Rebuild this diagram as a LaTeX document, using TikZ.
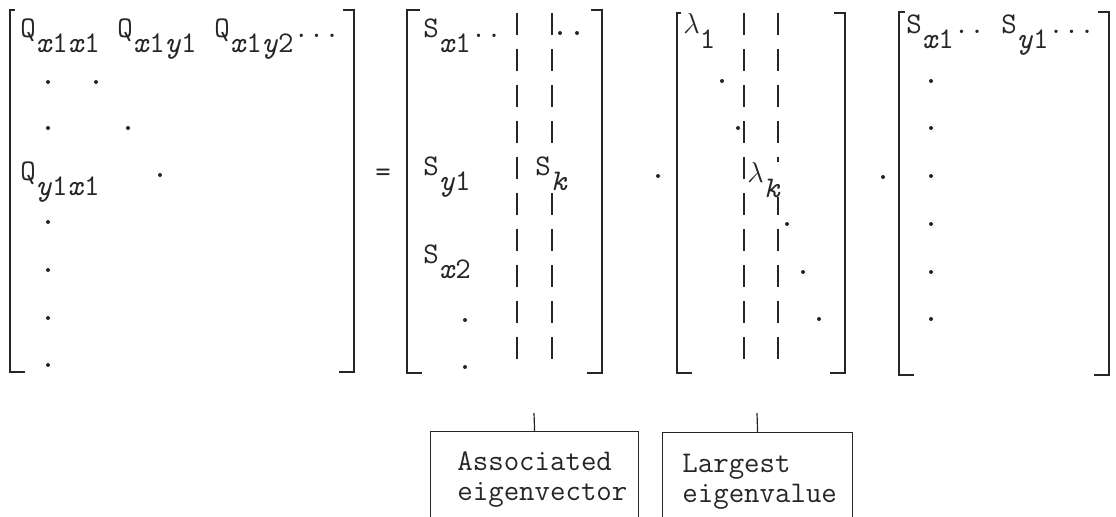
\documentclass[tikz,border=0pt]{standalone}
\usepackage{fontspec}
\usetikzlibrary{positioning}
\colorlet{ink}{black!85}
\newcommand{\sub}[1]{\raisebox{-7.5pt}{#1}}
\newcommand{\vx}{\textit{x}}
\newcommand{\vy}{\textit{y}}
\newcommand{\vk}{\textit{k}}
\newcommand{\lam}{$\lambda$}

\begin{document}
\begin{tikzpicture}[x=0.5pt, y=-0.5pt,
    entry/.style={inner sep=0pt, anchor=base west, text=ink, font=\ttfamily\fontsize{15}{15}\selectfont},
    bracket/.style={draw=ink, line width=1pt},
    vecline/.style={draw=ink, line width=0.7pt, dash pattern=on 11pt off 7pt},
    labelbox/.style={draw=ink, line width=0.6pt, inner sep=0pt, anchor=north west},
    boxtext/.style={entry, align=left}]
    \useasboundingbox (0,0) rectangle (1116,516);
    \clip (0,0) rectangle (1116,516);

    % Corchetes
    \foreach \l/\r/\t/\b/\s in {10/354/10/372/5, 407/602/10/373/13, 677/845/13/373/4, 899/1109/12/375/6} {
        \draw[bracket] (\l+\s,\t) -- (\l,\t) -- (\l,\b) -- (\l+15,\b);
        \draw[bracket] (\r-11,\t) -- (\r,\t) -- (\r,\b) -- (\r-15,\b);
    }

    % Columnas marcadas
    \foreach \x in {517, 552, 744, 778}
        \draw[vecline] (\x,13) -- (\x,373);

    % Matriz Q
    \node[entry] (q11) at (20,37) {Q\sub{\vx1\vx1}};
    \node[entry] (q12) at (117,37) {Q\sub{\vx1\vy1}};
    \node[entry] (q13) at (214,37) {Q\sub{\vx1\vy2}...};
    \node[entry] (q21) at (20,180) {Q\sub{\vy1\vx1}};
    \foreach \x/\y in {48/82, 96/82, 48/128, 128/128, 160/175, 48/222, 48/270, 48/318, 48/365}
        \fill[ink] (\x,\y) circle (1pt);

    \node[entry, anchor=center] (eq) at (383,175) {=};

    % Matriz S
    \node[entry] (s11) at (423,37) {S\sub{\vx1}..};
    \node[entry] (s21) at (423,175) {S\sub{\vy1}};
    \node[entry] (s31) at (423,263) {S\sub{\vx2}};
    \node[entry, fill=white] (sk) at (535,175) {S\sub{\vk}};
    \foreach \x/\y in {560/33, 577/33, 465/320, 465/367}
        \fill[ink] (\x,\y) circle (1pt);

    \fill[ink] (658,176) circle (1pt);

    % Matriz de valores propios
    \node[entry] (l1) at (683,33) {\lam\sub{1}};
    \node[entry, fill=white] (lk) at (747,182) {\lam\sub{\vk}};
    \foreach \x/\y in {722/81, 738/128, 787/224, 803/272, 819/319}
        \fill[ink] (\x,\y) circle (1pt);

    \fill[ink] (883,177) circle (1pt);

    % Matriz S transpuesta
    \node[entry] (t11) at (906,33) {S\sub{\vx1}..};
    \node[entry] (t12) at (1001,33) {S\sub{\vy1}...};
    \foreach \y in {81, 128, 176, 224, 272, 319}
        \fill[ink] (931,\y) circle (1pt);

    % Etiquetas
    \node[labelbox, minimum width=104pt, minimum height=60pt] (vecbox) at (430,431) {};
    \node[boxtext] (vectext) at (457,500) {Associated\\eigenvector};
    \coordinate (vectip) at (534,413);
    \draw[draw=ink, line width=0.6pt] (vecbox.north) -- (vectip);

    \node[labelbox, minimum width=95pt, minimum height=60pt] (valbox) at (662,432) {};
    \node[boxtext] (valtext) at (682,502) {Largest\\eigenvalue};
    \coordinate (valtip) at (757,413);
    \draw[draw=ink, line width=0.6pt] (valbox.north) -- (valtip);

\end{tikzpicture}
\end{document}
